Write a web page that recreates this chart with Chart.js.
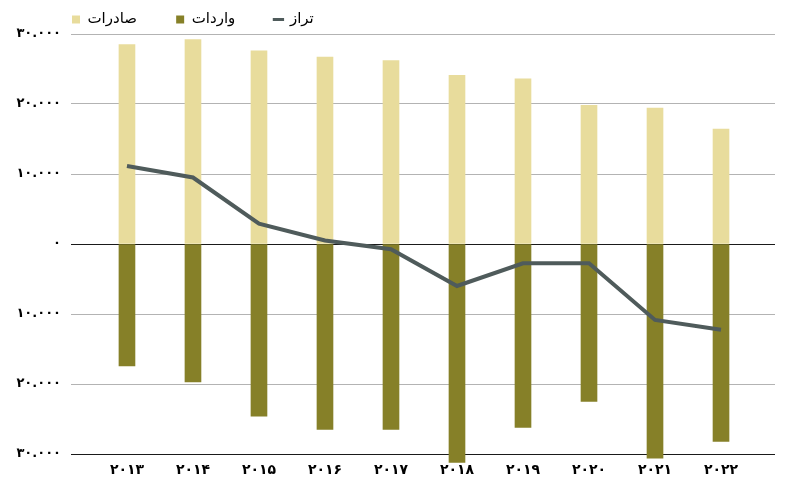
<!DOCTYPE html>
<html>
<head>
<meta charset="utf-8">
<script src="https://cdn.jsdelivr.net/npm/chart.js@4.4.1/dist/chart.umd.min.js"></script>
<style>
  html, body { margin: 0; padding: 0; background: #fff; }
</style>
</head>
<body>
<canvas id="grafico" width="795" height="494"></canvas>
<script>
const years = [2013, 2014, 2015, 2016, 2017, 2018, 2019, 2020, 2021, 2022];
const exportVals = [28500, 29200, 27600, 26700, 26200, 24100, 23600, 19800, 19400, 16400];
const importVals = [-17400, -19700, -24600, -26500, -26500, -31200, -26200, -22500, -30600, -28200];
const balanceVals = [11150, 9500, 2900, 500, -750, -6000, -2750, -2750, -10850, -12250];
const yTicks = [30000, 20000, 10000, 0, -10000, -20000, -30000];
const seriesNames = ["صادرات", "واردات", "تراز"];

const FONT = "'DejaVu Sans', sans-serif";

// ارقام فارسی
function fa(str) {
    return String(str).replace(/[0-9]/g, d => String.fromCharCode(0x06F0 + Number(d)));
}

function fmt(v) {
    const n = Math.abs(v);
    if (n === 0) return fa("0");
    return fa(n.toString().replace(/\B(?=(\d{3})+(?!\d))/g, "."));
}

const toXY = arr => arr.map((v, i) => ({ x: i, y: v }));

const ctx = document.getElementById("grafico").getContext("2d");

new Chart(ctx, {
    type: "bar",
    data: {
        datasets: [
            {
                label: seriesNames[0] + "        ",
                data: toXY(exportVals),
                backgroundColor: "#e8dc9c",
                barThickness: 16,
                grouped: false,
                clip: false,
                order: 1,
            },
            {
                label: seriesNames[1] + "        ",
                data: toXY(importVals),
                backgroundColor: "#868028",
                barThickness: 16,
                grouped: false,
                clip: false,
                order: 1,
            },
            {
                type: "line",
                label: seriesNames[2],
                data: toXY(balanceVals),
                borderColor: "#4f5b5b",
                backgroundColor: "#4f5b5b",
                borderWidth: 4,
                pointRadius: 0,
                tension: 0,
                clip: false,
                order: 0,
            },
        ],
    },
    options: {
        responsive: false,
        animation: false,
        layout: { padding: { top: 11, right: 20, bottom: 0, left: 0 } },
        plugins: {
            tooltip: { enabled: false },
            legend: {
                position: "top",
                align: "start",
                fullSize: false,
                maxHeight: 23,
                labels: {
                    usePointStyle: true,
                    boxWidth: 8,
                    boxHeight: 8,
                    padding: 1,
                    color: "#000",
                    font: { family: FONT, size: 15 },
                    sort: (a, b) => a.datasetIndex - b.datasetIndex,
                    generateLabels(chart) {
                        const items = Chart.defaults.plugins.legend.labels.generateLabels(chart);
                        items.forEach(it => {
                            const ds = chart.data.datasets[it.datasetIndex];
                            if (ds.type === "line") {
                                it.pointStyle = "line";
                                it.strokeStyle = ds.borderColor;
                                it.lineWidth = 3;
                            } else {
                                it.pointStyle = "rect";
                                it.fillStyle = ds.backgroundColor;
                                it.lineWidth = 0;
                            }
                        });
                        return items;
                    },
                },
            },
        },
        scales: {
            x: {
                type: "linear",
                offset: false,
                min: -0.848,
                max: 9.818,
                afterBuildTicks: scale => {
                    scale.ticks = years.map((_, i) => ({ value: i }));
                },
                afterFit: scale => { scale.height = 40; },
                grid: { display: false, drawTicks: false, offset: false },
                border: { display: false },
                ticks: {
                    autoSkip: false,
                    maxRotation: 0,
                    padding: 8,
                    color: "#000",
                    font: { family: FONT, size: 14, weight: "bold" },
                    callback: v => fa(years[v]),
                },
            },
            y: {
                min: -30000,
                max: 30000,
                afterBuildTicks: scale => {
                    scale.ticks = yTicks.map(v => ({ value: v }));
                },
                afterFit: scale => { scale.width = 71; },
                grid: {
                    drawTicks: false,
                    lineWidth: 1,
                    color: c => (c.tick.value === 0 || c.tick.value === -30000) ? "#1a1a1a" : "#b3b3b3",
                },
                border: { display: false },
                ticks: {
                    padding: 10,
                    color: "#000",
                    font: { family: FONT, size: 13, weight: "bold" },
                    callback: v => fmt(v),
                },
            },
        },
    },
});
</script>
</body>
</html>
